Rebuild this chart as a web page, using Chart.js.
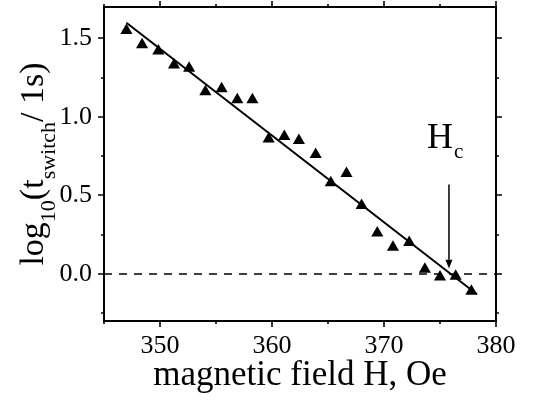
<!DOCTYPE html>
<html>
<head>
<meta charset="utf-8">
<script src="https://cdn.jsdelivr.net/npm/chart.js@4.4.0/dist/chart.umd.min.js"></script>
<style>
  body { margin: 0; background: #fff; }
</style>
</head>
<body>
<canvas id="switchChart" width="539" height="400"></canvas>
<script>
// measured switching times vs. applied field
var fieldH = [347.0, 348.4, 349.85, 351.25, 352.6, 354.05, 355.5, 356.9, 358.25, 359.7, 361.1, 362.4,
              363.9, 365.25, 366.65, 368.0, 369.4, 370.8, 372.25, 373.65, 375.0, 376.4, 377.8];
var logT = [1.55, 1.46, 1.42, 1.33, 1.31, 1.16, 1.18, 1.11, 1.11, 0.86, 0.875, 0.85,
            0.76, 0.58, 0.64, 0.435, 0.26, 0.17, 0.20, 0.03, -0.02, -0.015, -0.11];

// linear fit
var fitH = [347.0, 378.3];
var fitLog = [1.60, -0.13];

// reference line log = 0
var zeroH = [345, 380];
var zeroLog = [0, 0];

// arrow marking H_c
var arrowH = [375.8, 375.8];
var arrowLog = [0.57, 0.09];
var arrowTip = 0.035;

// axis ticks
var xMajor = [350, 360, 370, 380];
var xMinor = [345, 355, 365, 375];
var yMajor = [0, 0.5, 1.0, 1.5];
var yMinor = [-0.25, 0.25, 0.75, 1.25];

var serif = "'Liberation Serif', 'Times New Roman', serif";

function pts(xs, ys) {
    return xs.map(function (v, i) { return {x: v, y: ys[i]}; });
}

// frame, ticks on all four sides, arrow head and the labels that need subscripts
var decorations = {
    id: 'decorations',
    afterDatasetsDraw: function (chart) {
        var ctx = chart.ctx;
        var a = chart.chartArea;
        var xs = chart.scales.x, ys = chart.scales.y;
        ctx.save();
        ctx.strokeStyle = '#000';
        ctx.fillStyle = '#000';
        ctx.lineWidth = 2;
        ctx.strokeRect(a.left, a.top, a.right - a.left, a.bottom - a.top);

        ctx.lineWidth = 1.6;
        ctx.beginPath();
        function xTick(v, len) {
            var p = Math.round(xs.getPixelForValue(v));
            ctx.moveTo(p, a.bottom); ctx.lineTo(p, a.bottom + len);
            ctx.moveTo(p, a.top); ctx.lineTo(p, a.top - len);
        }
        function yTick(v, len) {
            var p = Math.round(ys.getPixelForValue(v));
            ctx.moveTo(a.left, p); ctx.lineTo(a.left - len, p);
            ctx.moveTo(a.right, p); ctx.lineTo(a.right + len, p);
        }
        xMajor.forEach(function (v) { xTick(v, 6); });
        xMinor.forEach(function (v) { xTick(v, 3); });
        yMajor.forEach(function (v) { yTick(v, 6); });
        yMinor.forEach(function (v) { yTick(v, 3); });
        ctx.stroke();

        // arrow head
        var ax = xs.getPixelForValue(arrowH[1]);
        var ay = ys.getPixelForValue(arrowTip);
        var base = ys.getPixelForValue(arrowLog[1]);
        ctx.beginPath();
        ctx.moveTo(ax, ay);
        ctx.lineTo(ax - 3.5, base);
        ctx.lineTo(ax + 3.5, base);
        ctx.closePath();
        ctx.fill();

        // H_c label above the arrow
        var top = ys.getPixelForValue(arrowLog[0]);
        ctx.textBaseline = 'alphabetic';
        ctx.textAlign = 'left';
        ctx.font = '36px ' + serif;
        var hx = ax - 22, hy = top - 36;
        ctx.fillText('H', hx, hy);
        var hw = ctx.measureText('H').width;
        ctx.font = '21px ' + serif;
        ctx.fillText('c', hx + hw + 1, hy + 10);

        // y axis title with subscripts
        var parts = [
            ['log', 34, 0], ['10', 22, 12], ['(t', 34, 0],
            ['switch', 22, 12], ['/ 1s)', 34, 0]
        ];
        var total = 0;
        parts.forEach(function (p) {
            ctx.font = p[1] + 'px ' + serif;
            p.push(ctx.measureText(p[0]).width);
            total += p[3];
        });
        ctx.translate(43, (a.top + a.bottom) / 2);
        ctx.rotate(-Math.PI / 2);
        var cx = -total / 2;
        parts.forEach(function (p) {
            ctx.font = p[1] + 'px ' + serif;
            ctx.fillText(p[0], cx, p[2]);
            cx += p[3];
        });
        ctx.restore();
    }
};

function noEdgePadding(s) {
    s.paddingTop = 0;
    s.paddingBottom = 0;
    s.paddingLeft = 0;
    s.paddingRight = 0;
}

var ctx = document.getElementById('switchChart').getContext('2d');
var switchChart = new Chart(ctx, {
    type: 'scatter',
    data: {
        datasets: [{
            data: pts(fieldH, logT),
            pointStyle: 'triangle',
            pointRadius: 7,
            backgroundColor: '#000',
            borderColor: '#000',
            borderWidth: 0,
            order: 0
        }, {
            data: pts(fitH, fitLog),
            showLine: true,
            borderColor: '#000',
            borderWidth: 2,
            pointRadius: 0,
            order: 1
        }, {
            data: pts(zeroH, zeroLog),
            showLine: true,
            borderColor: '#000',
            borderWidth: 1.5,
            borderDash: [8, 7],
            pointRadius: 0,
            order: 2
        }, {
            data: pts(arrowH, arrowLog),
            showLine: true,
            borderColor: '#000',
            borderWidth: 1.5,
            pointRadius: 0,
            order: 3
        }]
    },
    options: {
        responsive: false,
        animation: false,
        devicePixelRatio: 1,
        layout: { padding: { top: 5, right: 43, left: 0, bottom: 0 } },
        plugins: {
            legend: { display: false },
            tooltip: { enabled: false }
        },
        scales: {
            x: {
                type: 'linear',
                min: 345,
                max: 380,
                afterBuildTicks: function (s) { s.ticks = xMajor.map(function (v) { return {value: v}; }); },
                afterFit: function (s) { s.height = 79; noEdgePadding(s); },
                grid: { display: false, drawTicks: false },
                border: { display: false },
                ticks: {
                    color: '#000',
                    padding: 10,
                    maxRotation: 0,
                    font: { family: serif, size: 26 }
                },
                title: {
                    display: true,
                    text: 'magnetic field H, Oe',
                    color: '#000',
                    font: { family: serif, size: 35 },
                    padding: { top: 0, bottom: 3 }
                }
            },
            y: {
                type: 'linear',
                min: -0.3,
                max: 1.7,
                afterBuildTicks: function (s) { s.ticks = yMajor.map(function (v) { return {value: v}; }); },
                afterFit: function (s) { s.width = 104; noEdgePadding(s); },
                grid: { display: false, drawTicks: false },
                border: { display: false },
                ticks: {
                    color: '#000',
                    padding: 12,
                    font: { family: serif, size: 26 },
                    callback: function (v) { return v.toFixed(1); }
                }
            }
        }
    },
    plugins: [decorations]
});
</script>
</body>
</html>
